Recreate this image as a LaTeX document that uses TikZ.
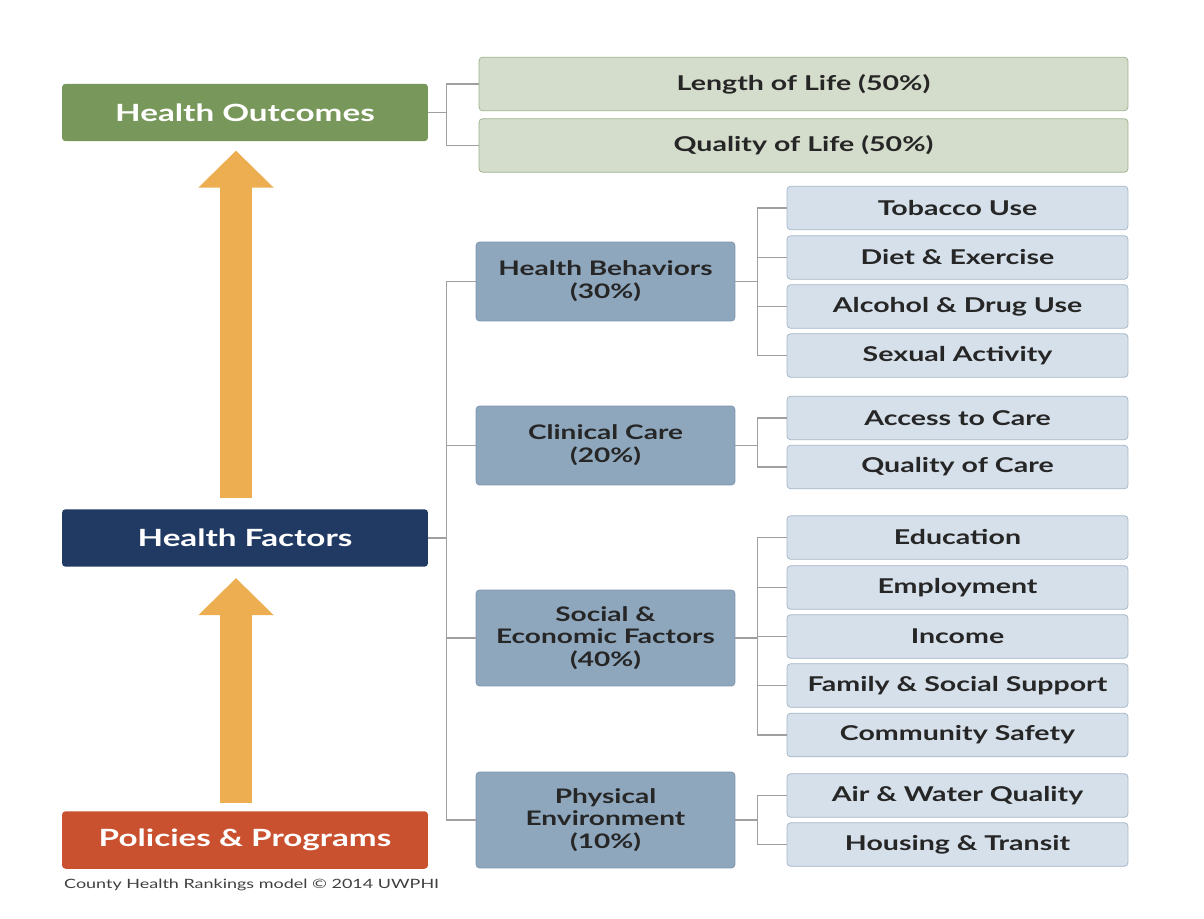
\documentclass[tikz,border=0pt]{standalone}
\usepackage{fontspec}
\setmainfont{Lato}[FakeStretch=1.4]
\usetikzlibrary{arrows.meta,positioning}
\definecolor{outgreen}{HTML}{78975A}
\definecolor{lifefill}{HTML}{D4DCCC}
\definecolor{lifeedge}{HTML}{9CB08A}
\definecolor{factnavy}{HTML}{213A63}
\definecolor{policyred}{HTML}{C9512F}
\definecolor{groupfill}{HTML}{8FA7BD}
\definecolor{groupedge}{HTML}{7D95AC}
\definecolor{itemfill}{HTML}{D6E0EA}
\definecolor{itemedge}{HTML}{A2B4C6}
\definecolor{arrowgold}{HTML}{ECAE50}
\definecolor{linkgray}{HTML}{A0A0A0}
\tikzset{topbox/.style={rounded corners=2, fill=#1, text=white, minimum width=7.32cm, minimum height=1.15cm, font=\bfseries\fontsize{13.5}{16}\selectfont}}
\tikzset{lifebox/.style={rounded corners=2, draw=lifeedge, fill=lifefill, text=black!85, minimum width=12.98cm, minimum height=1.07cm, font=\bfseries\fontsize{11.6}{13}\selectfont}}
\tikzset{groupbox/.style={rounded corners=2, draw=groupedge, fill=groupfill, text=black!85, align=center, minimum width=5.18cm, font=\bfseries\fontsize{11.4}{13}\selectfont}}
\tikzset{itembox/.style={rounded corners=2, draw=itemedge, fill=itemfill, text=black!85, minimum width=6.82cm, minimum height=0.87cm, font=\bfseries\fontsize{11.6}{13}\selectfont}}
\tikzset{link/.style={draw=linkgray, line width=0.9pt}}
\tikzset{bigarrow/.style={draw=arrowgold, line width=0.64cm, -{Triangle[length=0.74cm,width=1.46cm]}}}

\begin{document}
\begin{tikzpicture}[x=0.02cm, y=-0.02cm]
	\useasboundingbox (0,0) rectangle (1204,919);

	\node[topbox=outgreen] (ho) at (245,112.5) {Health Outcomes};
	\node[topbox=factnavy] (hf) at (245,538) {Health Factors};
	\node[topbox=policyred] (pp) at (245,840) {Policies \& Programs};
	\node[anchor=west, text=black!75, font=\fontsize{7.3}{9}\selectfont] (cap) at (58,885) {County Health Rankings model © 2014 UWPHI};

	\node[lifebox] (lol) at (803.5,84) {Length of Life (50\%)};
	\node[lifebox] (qol) at (803.5,145.5) {Quality of Life (50\%)};

	\node[groupbox, minimum height=1.58cm] (hb) at (605.5,281.5) {Health Behaviors\\(30\%)};
	\node[groupbox, minimum height=1.58cm] (cc) at (605.5,445.5) {Clinical Care\\(20\%)};
	\node[groupbox, minimum height=1.92cm] (se) at (605.5,638) {Social \&\\Economic Factors\\(40\%)};
	\node[groupbox, minimum height=1.92cm] (pe) at (605.5,820) {Physical\\Environment\\(10\%)};

	\node[itembox] (tob) at (957.5,208) {Tobacco Use};
	\node[itembox] (diet) at (957.5,257.5) {Diet \& Exercise};
	\node[itembox] (alc) at (957.5,306.5) {Alcohol \& Drug Use};
	\node[itembox] (sex) at (957.5,355.5) {Sexual Activity};
	\node[itembox] (acc) at (957.5,418) {Access to Care};
	\node[itembox] (qoc) at (957.5,467) {Quality of Care};
	\node[itembox] (edu) at (957.5,537.5) {Education};
	\node[itembox] (emp) at (957.5,587.5) {Employment};
	\node[itembox] (inc) at (957.5,636.5) {Income};
	\node[itembox] (fam) at (957.5,685.5) {Family \& Social Support};
	\node[itembox] (com) at (957.5,735) {Community Safety};
	\node[itembox] (air) at (957.5,795.5) {Air \& Water Quality};
	\node[itembox] (hou) at (957.5,844.5) {Housing \& Transit};

	% upward arrows
	\draw[bigarrow] ([xshift=-0.18cm,yshift=0.22cm]hf.north) -- ([xshift=-0.18cm,yshift=-0.18cm]ho.south);
	\draw[bigarrow] ([xshift=-0.18cm,yshift=0.16cm]pp.north) -- ([xshift=-0.18cm,yshift=-0.22cm]hf.south);

	% outcomes
	\draw[link] (ho.east) -- ++(18,0) |- (lol.west);
	\draw[link] (ho.east) -- ++(18,0) |- (qol.west);

	% factors
	\draw[link] (hf.east) -- ++(18,0) |- (hb.west);
	\draw[link] (hf.east) -- ++(18,0) |- (cc.west);
	\draw[link] (hf.east) -- ++(18,0) |- (se.west);
	\draw[link] (hf.east) -- ++(18,0) |- (pe.west);

	\draw[link] (hb.east) -- ++(22,0) |- (tob.west);
	\draw[link] (hb.east) -- ++(22,0) |- (diet.west);
	\draw[link] (hb.east) -- ++(22,0) |- (alc.west);
	\draw[link] (hb.east) -- ++(22,0) |- (sex.west);

	\draw[link] (cc.east) -- ++(22,0) |- (acc.west);
	\draw[link] (cc.east) -- ++(22,0) |- (qoc.west);

	\draw[link] (se.east) -- ++(22,0) |- (edu.west);
	\draw[link] (se.east) -- ++(22,0) |- (emp.west);
	\draw[link] (se.east) -- ++(22,0) |- (inc.west);
	\draw[link] (se.east) -- ++(22,0) |- (fam.west);
	\draw[link] (se.east) -- ++(22,0) |- (com.west);

	\draw[link] (pe.east) -- ++(22,0) |- (air.west);
	\draw[link] (pe.east) -- ++(22,0) |- (hou.west);
\end{tikzpicture}
\end{document}
